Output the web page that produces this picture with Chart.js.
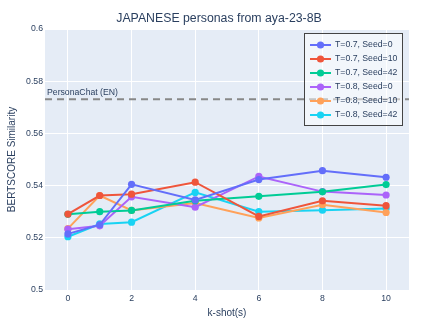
<!DOCTYPE html>
<html>
<head>
<meta charset="utf-8">
<script src="https://cdn.jsdelivr.net/npm/chart.js@4"></script>
<style>
    html, body { margin: 0; padding: 0; background: #fff; }
    #wrap { width: 439px; height: 329px; }
</style>
</head>
<body>
<div id="wrap"><canvas id="chart1"></canvas></div>
<script>
const kShots = [0, 1, 2, 4, 6, 8, 10];
const xTicks = [0, 2, 4, 6, 8, 10];
const yTicks = [0.5, 0.52, 0.54, 0.56, 0.58, 0.6];

const seriesNames = ['T=0.7, Seed=0', 'T=0.7, Seed=10', 'T=0.7, Seed=42', 'T=0.8, Seed=0', 'T=0.8, Seed=10', 'T=0.8, Seed=42'];
const seriesColors = ['#636efa', '#EF553B', '#00cc96', '#ab63fa', '#FFA15A', '#19d3f3'];

const t07s0 = [0.5215, 0.5250, 0.5405, 0.5345, 0.5423, 0.5457, 0.5432];
const t07s10 = [0.5291, 0.5362, 0.5367, 0.5413, 0.5282, 0.5342, 0.5323];
const t07s42 = [0.5290, 0.5300, 0.5305, 0.5342, 0.5359, 0.5376, 0.5404];
const t08s0 = [0.5233, 0.5246, 0.5357, 0.5317, 0.5435, 0.5377, 0.5364];
const t08s10 = [0.5235, 0.5362, 0.5305, 0.5333, 0.5276, 0.5327, 0.5297];
const t08s42 = [0.5204, 0.5253, 0.5260, 0.5374, 0.5300, 0.5306, 0.5312];
const allSeries = [t07s0, t07s10, t07s42, t08s0, t08s10, t08s42];

const baselineLabel = 'PersonaChat (EN)';
const baselineValue = 0.5731;
const xMin = -0.72, xMax = 10.72;

const textColor = '#2a3f5f';
const font = '"Liberation Sans", Arial, sans-serif';

const datasets = allSeries.map((values, i) => ({
    label: seriesNames[i],
    data: values.map((v, j) => ({ x: kShots[j], y: v })),
    borderColor: seriesColors[i],
    backgroundColor: seriesColors[i],
    borderWidth: 2,
    pointRadius: 3.6,
    pointHoverRadius: 3.6,
    pointBorderWidth: 0
}));

// dashed reference line across the whole plot
datasets.unshift({
    label: baselineLabel,
    data: [{ x: xMin, y: baselineValue }, { x: xMax, y: baselineValue }],
    borderColor: '#888888',
    borderWidth: 2,
    borderDash: [7, 5],
    pointRadius: 0
});

const plotDecor = {
    id: 'plotDecor',
    beforeDraw(chart) {
        const { ctx, chartArea: a } = chart;
        ctx.save();
        ctx.fillStyle = '#E5ECF6';
        ctx.fillRect(a.left, a.top, a.right - a.left, a.bottom - a.top);
        ctx.restore();
    },
    afterDraw(chart) {
        const { ctx, chartArea: a } = chart;
        const yScale = chart.scales.y;
        ctx.save();
        // title
        ctx.fillStyle = textColor;
        ctx.font = '12.3px ' + font;
        ctx.textAlign = 'center';
        ctx.textBaseline = 'middle';
        ctx.fillText('JAPANESE personas from aya-23-8B', 219, 19);

        // baseline label
        ctx.font = '8.7px ' + font;
        ctx.textAlign = 'left';
        ctx.textBaseline = 'middle';
        ctx.fillText(baselineLabel, a.left + 2, yScale.getPixelForValue(baselineValue) - 7);

        // legend box
        const bx = 304.5, by = 33.5, bw = 98, bh = 92;
        ctx.fillStyle = 'rgba(255,255,255,0.5)';
        ctx.fillRect(bx, by, bw, bh);
        ctx.strokeStyle = '#444444';
        ctx.lineWidth = 1;
        ctx.strokeRect(bx, by, bw, bh);
        seriesNames.forEach((name, i) => {
            const yy = 45 + i * 14;
            ctx.strokeStyle = seriesColors[i];
            ctx.lineWidth = 2;
            ctx.beginPath();
            ctx.moveTo(310, yy);
            ctx.lineTo(331, yy);
            ctx.stroke();
            ctx.fillStyle = seriesColors[i];
            ctx.beginPath();
            ctx.arc(320.5, yy, 3.6, 0, Math.PI * 2);
            ctx.fill();
            ctx.fillStyle = textColor;
            ctx.fillText(name, 335, yy);
        });
        ctx.restore();
    }
};

new Chart(document.getElementById('chart1'), {
    type: 'line',
    data: { datasets: datasets },
    plugins: [plotDecor],
    options: {
        responsive: true,
        maintainAspectRatio: false,
        animation: false,
        layout: { padding: { top: 29, right: 30, left: 0, bottom: 0 } },
        plugins: {
            legend: { display: false },
            title: { display: false },
            tooltip: { enabled: false }
        },
        scales: {
            x: {
                type: 'linear',
                min: xMin,
                max: xMax,
                afterBuildTicks: scale => { scale.ticks = xTicks.map(v => ({ value: v })); },
                afterFit: scale => { scale.height = 39; },
                grid: { color: '#ffffff', lineWidth: 1, drawTicks: false },
                border: { display: false },
                ticks: { color: textColor, font: { family: font, size: 8.7 }, padding: 3, maxRotation: 0 },
                title: { display: true, text: 'k-shot(s)', color: textColor, font: { family: font, size: 10 }, padding: { top: 0, bottom: 10 } }
            },
            y: {
                min: 0.5,
                max: 0.6,
                afterBuildTicks: scale => { scale.ticks = yTicks.map(v => ({ value: v })); },
                afterFit: scale => { scale.width = 45; },
                grid: { color: '#ffffff', lineWidth: 1, drawTicks: false },
                border: { display: false },
                ticks: { color: textColor, font: { family: font, size: 8.7 }, padding: 2, callback: v => String(Math.round(v * 100) / 100) },
                title: { display: true, text: 'BERTSCORE Similarity', color: textColor, font: { family: font, size: 10 }, padding: { top: 6, bottom: 0 } }
            }
        }
    }
});
</script>
</body>
</html>
